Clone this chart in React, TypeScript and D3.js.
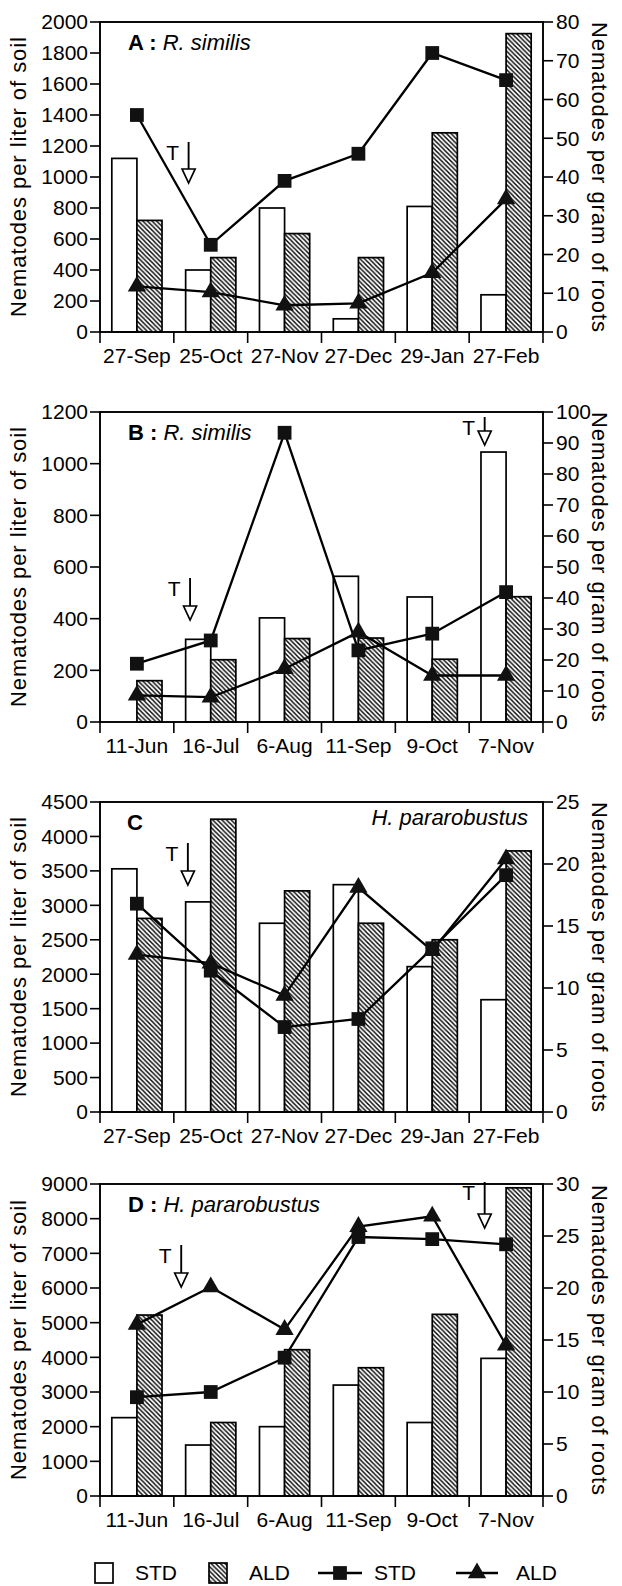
import React from 'react';
import * as d3 from 'd3';

// ---------- data ----------
const datesWinter = ['27-Sep', '25-Oct', '27-Nov', '27-Dec', '29-Jan', '27-Feb'];
const datesSummer = ['11-Jun', '16-Jul', '6-Aug', '11-Sep', '9-Oct', '7-Nov'];

// Panel A: R. similis (winter)
const soilStdA = [1120, 400, 800, 85, 810, 240];
const soilAldA = [720, 480, 635, 480, 1285, 1925];
const rootStdA = [56, 22.5, 39, 46, 72, 65];
const rootAldA = [11.8, 10.3, 6.9, 7.4, 15.3, 34.3];

// Panel B: R. similis (summer)
const soilStdB = [0, 320, 403, 564, 484, 1045];
const soilAldB = [160, 241, 323, 325, 243, 485];
const rootStdB = [18.8, 26.3, 93.3, 23.1, 28.5, 41.9];
const rootAldB = [8.6, 8, 17.2, 29, 15, 15];

// Panel C: H. pararobustus (winter)
const soilStdC = [3530, 3050, 2740, 3300, 2110, 1630];
const soilAldC = [2810, 4250, 3210, 2740, 2500, 3790];
const rootStdC = [16.8, 11.4, 6.85, 7.5, 13.2, 19.1];
const rootAldC = [12.7, 12.0, 9.4, 18.1, 13.0, 20.4];

// Panel D: H. pararobustus (summer)
const soilStdD = [2260, 1470, 2000, 3200, 2120, 3970];
const soilAldD = [5220, 2120, 4220, 3700, 5240, 8890];
const rootStdD = [9.5, 10, 13.3, 24.9, 24.7, 24.2];
const rootAldD = [16.5, 20.1, 16.0, 25.9, 26.9, 14.5];

const soilTicksA = d3.range(0, 2001, 200);
const rootTicksA = d3.range(0, 81, 10);
const soilTicksB = d3.range(0, 1201, 200);
const rootTicksB = d3.range(0, 101, 10);
const soilTicksC = d3.range(0, 4501, 500);
const rootTicksC = d3.range(0, 26, 5);
const soilTicksD = d3.range(0, 9001, 1000);
const rootTicksD = d3.range(0, 31, 5);

const legendLabels = ['STD', 'ALD', 'STD', 'ALD'];

// ---------- layout ----------
const W = 622;
const H = 1586;
const LEFT = 100;
const RIGHT = 543;
const FONT = 'Liberation Sans, Arial, Helvetica, sans-serif';

type Panel = {
  letter: string;
  species: string;
  speciesRight: boolean;
  dates: string[];
  soilStd: number[];
  soilAld: number[];
  rootStd: number[];
  rootAld: number[];
  soilTicks: number[];
  rootTicks: number[];
  top: number;
  bottom: number;
  titleY: number;
  speciesY: number;
  arrows: { band: number; y0: number; len: number }[];
};

const panels: Panel[] = [
  {
    letter: 'A', species: 'R. similis', speciesRight: false, dates: datesWinter,
    soilStd: soilStdA, soilAld: soilAldA, rootStd: rootStdA, rootAld: rootAldA,
    soilTicks: soilTicksA, rootTicks: rootTicksA, top: 22, bottom: 332,
    titleY: 50, speciesY: 50,
    arrows: [{ band: 1.2, y0: 142, len: 41 }],
  },
  {
    letter: 'B', species: 'R. similis', speciesRight: false, dates: datesSummer,
    soilStd: soilStdB, soilAld: soilAldB, rootStd: rootStdB, rootAld: rootAldB,
    soilTicks: soilTicksB, rootTicks: rootTicksB, top: 412, bottom: 722,
    titleY: 440, speciesY: 440,
    arrows: [{ band: 1.22, y0: 578, len: 42 }, { band: 5.21, y0: 417, len: 28 }],
  },
  {
    letter: 'C', species: 'H. pararobustus', speciesRight: true, dates: datesWinter,
    soilStd: soilStdC, soilAld: soilAldC, rootStd: rootStdC, rootAld: rootAldC,
    soilTicks: soilTicksC, rootTicks: rootTicksC, top: 802, bottom: 1112,
    titleY: 830, speciesY: 825,
    arrows: [{ band: 1.19, y0: 843, len: 42 }],
  },
  {
    letter: 'D', species: 'H. pararobustus', speciesRight: false, dates: datesSummer,
    soilStd: soilStdD, soilAld: soilAldD, rootStd: rootStdD, rootAld: rootAldD,
    soilTicks: soilTicksD, rootTicks: rootTicksD, top: 1184, bottom: 1496,
    titleY: 1212, speciesY: 1212,
    arrows: [{ band: 1.1, y0: 1245, len: 42 }, { band: 5.21, y0: 1182, len: 46 }],
  },
];

const squarePath = d3.symbol(d3.symbolSquare, 190)() as string;
const trianglePath = d3.symbol(d3.symbolTriangle, 145)() as string;

function Arrow({ x, y0, len }: { x: number; y0: number; len: number }) {
  const headH = 14;
  const headW = 13;
  const tip = y0 + len;
  return (
    <g>
      <text x={x - 16} y={y0 + 18} fontSize={21} textAnchor="middle" fontFamily={FONT}>T</text>
      <line x1={x} x2={x} y1={y0} y2={tip - headH} stroke="#000" strokeWidth={1.9} />
      <path
        d={`M${x - headW / 2},${tip - headH} L${x + headW / 2},${tip - headH} L${x},${tip} Z`}
        fill="#fff" stroke="#000" strokeWidth={1.7} strokeLinejoin="miter"
      />
    </g>
  );
}

function PanelView({ p }: { p: Panel }) {
  const x = d3.scaleBand<string>().domain(p.dates).range([LEFT, RIGHT]).padding(0);
  const bw = x.bandwidth();
  const inner = d3.scaleBand<string>().domain(['STD', 'ALD']).range([bw * 0.16, bw * 0.84]).padding(0);
  const soilMax = p.soilTicks[p.soilTicks.length - 1];
  const rootMax = p.rootTicks[p.rootTicks.length - 1];
  const yL = d3.scaleLinear().domain([0, soilMax]).range([p.bottom, p.top]);
  const yR = d3.scaleLinear().domain([0, rootMax]).range([p.bottom, p.top]);
  const cx = (d: string) => (x(d) as number) + bw / 2;
  const line = d3.line<[number, number]>().x(d => d[0]).y(d => d[1]);
  const stdPts: [number, number][] = p.dates.map((d, i) => [cx(d), yR(p.rootStd[i])]);
  const aldPts: [number, number][] = p.dates.map((d, i) => [cx(d), yR(p.rootAld[i])]);
  const bandPos = d3.scaleLinear().domain([0, p.dates.length]).range([LEFT, RIGHT]);
  const boundaries = d3.range(0, p.dates.length + 1).map(i => bandPos(i));
  const midY = (p.top + p.bottom) / 2;

  return (
    <g>
      {/* bars */}
      {p.dates.map((d, i) => (
        <g key={d}>
          <rect
            x={(x(d) as number) + (inner('STD') as number)} width={inner.bandwidth()}
            y={yL(p.soilStd[i])} height={p.bottom - yL(p.soilStd[i])}
            fill="#fff" stroke="#000" strokeWidth={1.7}
          />
          <rect
            x={(x(d) as number) + (inner('ALD') as number)} width={inner.bandwidth()}
            y={yL(p.soilAld[i])} height={p.bottom - yL(p.soilAld[i])}
            fill="url(#hatch)" stroke="#000" strokeWidth={1.7}
          />
        </g>
      ))}
      {/* frame */}
      <rect x={LEFT} y={p.top} width={RIGHT - LEFT} height={p.bottom - p.top} fill="none" stroke="#000" strokeWidth={1.9} />
      {/* left ticks */}
      {p.soilTicks.map(t => (
        <g key={'l' + t}>
          <line x1={LEFT - 10} x2={LEFT} y1={yL(t)} y2={yL(t)} stroke="#000" strokeWidth={1.6} />
          <text x={LEFT - 12} y={yL(t)} dy="0.35em" textAnchor="end" fontSize={21} fontFamily={FONT}>{t}</text>
        </g>
      ))}
      {/* right ticks */}
      {p.rootTicks.map(t => (
        <g key={'r' + t}>
          <line x1={RIGHT} x2={RIGHT + 10} y1={yR(t)} y2={yR(t)} stroke="#000" strokeWidth={1.6} />
          <text x={RIGHT + 13} y={yR(t)} dy="0.35em" textAnchor="start" fontSize={21} fontFamily={FONT}>{t}</text>
        </g>
      ))}
      {/* bottom category ticks */}
      {boundaries.map((bx, i) => (
        <line key={'b' + i} x1={bx} x2={bx} y1={p.bottom} y2={p.bottom + 11} stroke="#000" strokeWidth={1.6} />
      ))}
      {p.dates.map(d => (
        <text key={'x' + d} x={cx(d)} y={p.bottom + 31} textAnchor="middle" fontSize={21} fontFamily={FONT}>{d}</text>
      ))}
      {/* axis titles */}
      <text
        transform={`translate(26,${midY}) rotate(-90)`} textAnchor="middle" fontSize={22} fontFamily={FONT}
        textLength={280} lengthAdjust="spacing"
      >Nematodes per liter of soil</text>
      <text
        transform={`translate(592,${midY}) rotate(90)`} textAnchor="middle" fontSize={22} fontFamily={FONT}
        textLength={310} lengthAdjust="spacing"
      >Nematodes per gram of roots</text>
      {/* lines */}
      <path d={line(stdPts) as string} fill="none" stroke="#000" strokeWidth={2.3} />
      <path d={line(aldPts) as string} fill="none" stroke="#000" strokeWidth={2.3} />
      {stdPts.map((pt, i) => (
        <path key={'s' + i} d={squarePath} transform={`translate(${pt[0]},${pt[1]})`} fill="#111" />
      ))}
      {aldPts.map((pt, i) => (
        <path key={'t' + i} d={trianglePath} transform={`translate(${pt[0]},${pt[1]})`} fill="#111" />
      ))}
      {/* title */}
      {p.speciesRight ? (
        <g fontFamily={FONT} fontSize={22}>
          <text x={127} y={p.titleY} fontWeight="bold">{p.letter}</text>
          <text x={528} y={p.speciesY} fontStyle="italic" textAnchor="end">{p.species}</text>
        </g>
      ) : (
        <text x={128} y={p.titleY} fontFamily={FONT} fontSize={22}>
          <tspan fontWeight="bold">{p.letter} : </tspan>
          <tspan fontStyle="italic">{p.species}</tspan>
        </text>
      )}
      {/* treatment arrows */}
      {p.arrows.map((a, i) => (
        <Arrow key={'a' + i} x={bandPos(a.band)} y0={a.y0} len={a.len} />
      ))}
    </g>
  );
}

function Legend() {
  const y = 1573;
  return (
    <g fontFamily={FONT} fontSize={21}>
      <rect x={95} y={y - 10} width={18} height={20} fill="#fff" stroke="#000" strokeWidth={1.7} />
      <text x={135} y={y} dy="0.35em">{legendLabels[0]}</text>
      <rect x={209} y={y - 10} width={18} height={20} fill="url(#hatch)" stroke="#000" strokeWidth={1.7} />
      <text x={249} y={y} dy="0.35em">{legendLabels[1]}</text>
      <line x1={318} x2={362} y1={y} y2={y} stroke="#000" strokeWidth={2.3} />
      <path d={squarePath} transform={`translate(340,${y})`} fill="#111" />
      <text x={374} y={y} dy="0.35em">{legendLabels[2]}</text>
      <line x1={456} x2={498} y1={y} y2={y} stroke="#000" strokeWidth={2.3} />
      <path d={trianglePath} transform={`translate(477,${y})`} fill="#111" />
      <text x={516} y={y} dy="0.35em">{legendLabels[3]}</text>
    </g>
  );
}

export default function App() {
  return (
    <div style={{ position: 'absolute', left: 0, top: 0 }}>
      <svg width={W} height={H} viewBox={`0 0 ${W} ${H}`} style={{ display: 'block', background: '#fff' }}>
        <defs>
          <pattern id="hatch" patternUnits="userSpaceOnUse" width={4.6} height={4.6}>
            <rect width={4.6} height={4.6} fill="#fff" />
            <path d="M-1,-1 L5.6,5.6 M-1,3.6 L1,5.6 M3.6,-1 L5.6,1" stroke="#000" strokeWidth={1.45} />
          </pattern>
        </defs>
        <rect width={W} height={H} fill="#fff" />
        {panels.map(p => (
          <PanelView key={p.letter} p={p} />
        ))}
        <Legend />
      </svg>
    </div>
  );
}
